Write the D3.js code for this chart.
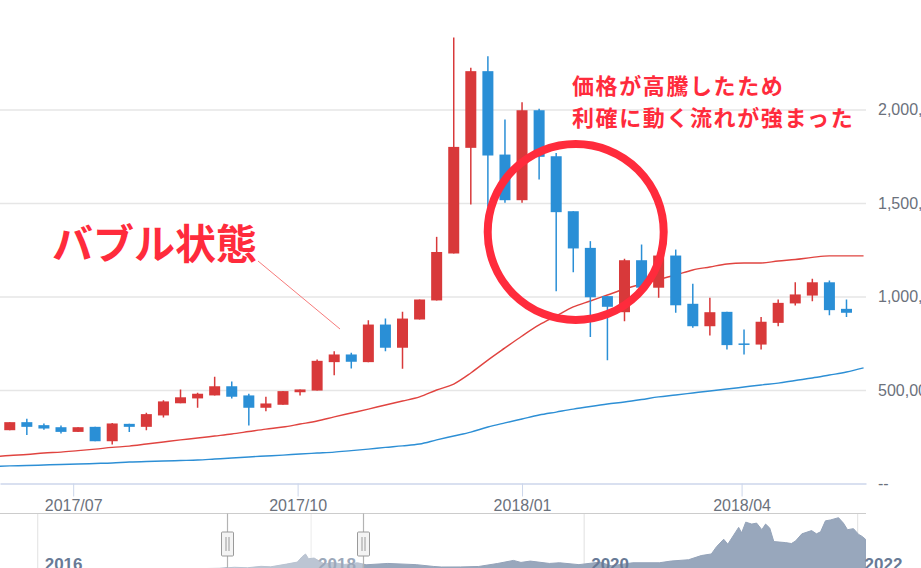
<!DOCTYPE html>
<html>
<head>
<meta charset="utf-8">
<script src="https://cdn.jsdelivr.net/npm/d3@7"></script>
<style>
body { margin: 0; background: #fff; overflow: hidden; }
svg { display: block; }
</style>
</head>
<body>
<div id="chart"></div>
<script>
var svgWidth = 921;
var svgHeight = 568;

// main plot area
var plotRight = 866;
var plotBottom = 483.5;

// weekly candles (week start, Monday)
var weeks = ["2017-06-05","2017-06-12","2017-06-19","2017-06-26","2017-07-03","2017-07-10","2017-07-17","2017-07-24","2017-07-31","2017-08-07",
  "2017-08-14","2017-08-21","2017-08-28","2017-09-04","2017-09-11","2017-09-18","2017-09-25","2017-10-02","2017-10-09","2017-10-16",
  "2017-10-23","2017-10-30","2017-11-06","2017-11-13","2017-11-20","2017-11-27","2017-12-04","2017-12-11","2017-12-18","2017-12-25",
  "2018-01-01","2018-01-08","2018-01-15","2018-01-22","2018-01-29","2018-02-05","2018-02-12","2018-02-19","2018-02-26","2018-03-05",
  "2018-03-12","2018-03-19","2018-03-26","2018-04-02","2018-04-09","2018-04-16","2018-04-23","2018-04-30","2018-05-07","2018-05-14"];

var opens = [285000,328000,312000,301000,276000,303000,226000,319000,303000,364000,
  429000,455000,471000,520000,471000,405000,421000,488000,497000,649000,
  690000,649000,850000,726000,877000,979000,1230000,1795000,2205000,1759000,
  1515000,1996000,1750000,1456000,1260000,1002000,916000,1194000,1047000,1219000,
  961000,841000,918000,749000,743000,859000,963000,1005000,1076000,934000];
var highs = [328000,346000,321000,310000,301000,303000,324000,319000,378000,445000,
  503000,485000,571000,545000,480000,464000,494000,503000,663000,707000,
  699000,873000,882000,918000,984000,1319000,2385000,2223000,2285000,1947000,
  2039000,2004000,1768000,1456000,1296000,1002000,1202000,1278000,1219000,1251000,
  1068000,993000,918000,824000,891000,984000,1076000,1095000,1086000,984000];
var lows = [285000,260000,287000,267000,276000,226000,209000,276000,285000,353000,
  429000,405000,471000,455000,310000,387000,421000,471000,497000,579000,
  615000,649000,707000,613000,877000,979000,1230000,1492000,1480000,1501000,
  1501000,1626000,1028000,1130000,784000,659000,868000,1040000,993000,913000,
  833000,791000,717000,690000,717000,841000,952000,975000,900000,891000];
var closes = [328000,303000,294000,276000,301000,226000,321000,303000,371000,439000,
  461000,480000,520000,464000,405000,428000,494000,503000,656000,690000,
  651000,850000,726000,882000,984000,1238000,1800000,2205000,1754000,1515000,
  1996000,1747000,1451000,1257000,996000,945000,1194000,1047000,1219000,953000,
  841000,916000,740000,745000,865000,966000,1011000,1076000,927000,913000];

// moving averages (one point per week, one extra week on each side)
var maWeeks = ["2017-05-29"].concat(weeks, ["2018-05-21"]);
var maRed = [141700,149700,155000,163000,168000,176000,184000,193000,200000,211000,
  222000,233000,243000,254000,265000,278000,291000,302000,318000,334000,
  356000,377000,398000,420000,441000,463000,500000,532000,591000,660000,
  725000,789000,848000,896000,944000,976000,1008000,1040000,1067000,1091000,
  1115000,1142000,1158000,1174000,1179000,1179000,1190000,1198000,1209000,1217000,
  1217000,1217000];
var maBlue = [91000,94000,96000,99000,102000,104000,107000,110000,115000,118000,
  120000,123000,126000,131000,136000,142000,147000,152000,158000,163000,
  168000,176000,184000,193000,201000,211000,233000,254000,275000,302000,
  324000,345000,366000,382000,398000,412000,425000,436000,449000,463000,
  473000,484000,495000,505000,516000,527000,537000,551000,564000,580000,
  596000,618000];

var yTicks = [0, 500000, 1000000, 1500000, 2000000];
var xTicks = ["2017-07-01","2017-10-01","2018-01-01","2018-04-01"];

// navigator series
var navDates = ["2015-09-25","2016-01-01","2016-03-01","2016-06-15","2016-08-01","2016-11-01","2017-01-01","2017-03-01","2017-05-01","2017-06-10",
  "2017-07-15","2017-08-20","2017-09-15","2017-10-27","2017-11-25","2017-12-08","2017-12-17","2017-12-25","2018-01-09","2018-02-06",
  "2018-02-26","2018-04-01","2018-05-05","2018-05-28","2018-07-25","2018-10-09","2018-11-25","2018-12-15","2019-02-04","2019-03-25",
  "2019-05-15","2019-06-26","2019-07-16","2019-08-10","2019-09-30","2019-10-27","2019-12-18","2020-02-12","2020-03-13","2020-05-10",
  "2020-07-20","2020-08-21","2020-10-06","2020-11-09","2020-12-06","2020-12-20","2021-01-08","2021-01-19","2021-02-17","2021-02-25",
  "2021-03-08","2021-03-24","2021-04-06","2021-04-20","2021-04-30","2021-05-11","2021-05-22","2021-06-22","2021-07-08","2021-07-19",
  "2021-08-05","2021-08-31","2021-09-13","2021-09-24","2021-10-07","2021-10-21","2021-11-11","2021-11-24","2021-12-05","2021-12-21",
  "2022-01-04","2022-01-12","2022-01-22"];
var navValues = [28000,50000,48000,80000,62000,77000,110000,130000,170000,330000,
  260000,470000,400000,800000,1100000,1900000,2300000,1600000,1700000,800000,
  1050000,750000,1000000,700000,900000,720000,450000,370000,380000,450000,
  900000,1350000,1050000,1250000,900000,1000000,720000,1100000,550000,1000000,
  1000000,1260000,1450000,2070000,2310000,3400000,4500000,3760000,6260000,5450000,
  7040000,6750000,6900000,5920000,6750000,6170000,4150000,4000000,3860000,4230000,
  5300000,5780000,5300000,5600000,7230000,7370000,7700000,6900000,5920000,6070000,
  5200000,4960000,4500000];
var navTicks = ["2016-01-01","2018-01-01","2020-01-01","2022-01-01"];
var navRange = ["2017-05-21","2018-05-19"];

var parseDate = d3.timeParse("%Y-%m-%d");

var upColor = "#d8393a";
var downColor = "#2a8fd6";
var noteColor = "#ff2b3c";

var svg = d3.select("#chart")
    .append("svg")
    .attr("width", svgWidth)
    .attr("height", svgHeight)
    .style("font-family", "'Liberation Sans', Arial, sans-serif");

//scales
var xScale = d3.scaleTime()
    .domain([parseDate("2017-06-01"), parseDate("2018-05-22")])
    .range([0, plotRight]);

var yScale = d3.scaleLinear()
    .domain([0, 2500000])
    .range([plotBottom, 16]);

//grid + right axis labels
var yAxis = svg.append("g")
    .call(d3.axisRight(yScale)
        .tickValues(yTicks)
        .tickSize(plotRight)
        .tickPadding(12)
        .tickFormat(d => d === 0 ? "--" : d3.format(",")(d)));
yAxis.select(".domain").remove();
yAxis.selectAll(".tick line")
    .attr("stroke", "#e6e6e6")
    .attr("stroke-width", 1.5)
    .attr("opacity", d => d === 0 ? 0 : 1);
yAxis.selectAll(".tick text")
    .attr("fill", "#6b717c")
    .style("font-size", "16px");

//bottom axis
var xAxis = svg.append("g")
    .attr("transform", `translate(0, ${plotBottom})`)
    .call(d3.axisBottom(xScale)
        .tickValues(xTicks.map(parseDate))
        .tickSize(13)
        .tickSizeOuter(0)
        .tickPadding(3)
        .tickFormat(d3.timeFormat("%Y/%m")));
xAxis.select(".domain").attr("stroke", "#ccd6eb").attr("stroke-width", 1.5);
xAxis.selectAll(".tick line").attr("stroke", "#ccd6eb");
xAxis.selectAll(".tick text")
    .attr("fill", "#6b717c")
    .style("font-size", "16px");

svg.append("clipPath")
    .attr("id", "plotClip")
    .append("rect")
    .attr("x", 0)
    .attr("y", 0)
    .attr("width", plotRight)
    .attr("height", plotBottom);

var plot = svg.append("g").attr("clip-path", "url(#plotClip)");

//moving average lines
var maLine = d3.line()
    .x(d => xScale(d.date))
    .y(d => yScale(d.value))
    .curve(d3.curveMonotoneX);

var maDates = maWeeks.map(parseDate);

plot.append("path")
    .datum(maDates.map((d, i) => ({ date: d, value: maBlue[i] })))
    .attr("fill", "none")
    .attr("stroke", "#2d8fd5")
    .attr("stroke-width", 1.4)
    .attr("d", maLine);

plot.append("path")
    .datum(maDates.map((d, i) => ({ date: d, value: maRed[i] })))
    .attr("fill", "none")
    .attr("stroke", "#e04440")
    .attr("stroke-width", 1.4)
    .attr("d", maLine);

//candles
var candleData = weeks.map(function(w, i) {
    return { date: parseDate(w), open: opens[i], high: highs[i], low: lows[i], close: closes[i] };
});

var weekPx = xScale(parseDate(weeks[1])) - xScale(parseDate(weeks[0]));
var bodyWidth = Math.round(weekPx * 0.64);

var candles = plot.selectAll(".candle")
    .data(candleData)
    .enter()
    .append("g")
    .attr("class", "candle")
    .attr("fill", d => d.close >= d.open ? upColor : downColor)
    .attr("stroke", d => d.close >= d.open ? upColor : downColor);

candles.append("line")
    .attr("x1", d => xScale(d.date))
    .attr("x2", d => xScale(d.date))
    .attr("y1", d => yScale(d.high))
    .attr("y2", d => yScale(d.low))
    .attr("stroke-width", 1.5);

candles.append("rect")
    .attr("x", d => xScale(d.date) - bodyWidth / 2)
    .attr("y", d => yScale(Math.max(d.open, d.close)))
    .attr("width", bodyWidth)
    .attr("height", d => Math.max(1.5, Math.abs(yScale(d.open) - yScale(d.close))))
    .attr("stroke", "none");

//annotations
svg.append("circle")
    .attr("cx", xScale(parseDate("2018-01-23")))
    .attr("cy", yScale(1345000))
    .attr("r", 88)
    .attr("fill", "none")
    .attr("stroke", noteColor)
    .attr("stroke-width", 8);

svg.append("line")
    .attr("x1", 258)
    .attr("y1", 261)
    .attr("x2", 340)
    .attr("y2", 329)
    .attr("stroke", "#f77b7b")
    .attr("stroke-width", 1);

svg.append("text")
    .attr("x", 52)
    .attr("y", 259)
    .attr("fill", noteColor)
    .style("font-family", "'Noto Sans CJK JP', sans-serif")
    .style("font-size", "41px")
    .style("font-weight", "700")
    .text("バブル状態");

var noteLines = ["価格が高騰したため", "利確に動く流れが強まった"];
svg.selectAll(".note")
    .data(noteLines)
    .enter()
    .append("text")
    .attr("class", "note")
    .attr("x", 572)
    .attr("y", (d, i) => 94 + i * 32)
    .attr("fill", noteColor)
    .style("font-family", "'Noto Sans CJK JP', sans-serif")
    .style("font-size", "22px")
    .style("font-weight", "700")
    .style("letter-spacing", "1.6px")
    .text(d => d);

//navigator
var navTop = 513.5;
var navX = d3.scaleTime()
    .domain([parseDate("2016-01-01"), parseDate("2022-01-01")])
    .range([37.7, 857.6]);
var navY = d3.scaleLinear()
    .domain([0, 7700000])
    .range([569.5, 517.7]);

var nav = svg.append("g");

nav.selectAll(".navgrid")
    .data(navTicks.map(parseDate))
    .enter()
    .append("line")
    .attr("x1", d => navX(d))
    .attr("x2", d => navX(d))
    .attr("y1", navTop)
    .attr("y2", svgHeight)
    .attr("stroke", "#e6e6e6")
    .attr("stroke-width", 1.2);

var navArea = d3.area()
    .x(d => navX(d.date))
    .y0(navY(0))
    .y1(d => navY(d.value));

nav.append("path")
    .datum(navDates.map((d, i) => ({ date: parseDate(d), value: navValues[i] })))
    .attr("fill", "#98a7bc")
    .attr("stroke", "#94a3b9")
    .attr("stroke-width", 1)
    .attr("d", navArea);

nav.selectAll(".navlabel")
    .data(navTicks.map(parseDate))
    .enter()
    .append("text")
    .attr("x", d => navX(d) + 7)
    .attr("y", 569.5)
    .attr("fill", "#687a96")
    .style("font-size", "17px")
    .style("font-weight", "700")
    .text(d3.timeFormat("%Y"));

// selected window mask
var h1 = navX(parseDate(navRange[0]));
var h2 = navX(parseDate(navRange[1]));

nav.append("rect")
    .attr("x", h1)
    .attr("y", navTop)
    .attr("width", h2 - h1)
    .attr("height", svgHeight - navTop)
    .attr("fill", "#fff")
    .attr("opacity", 0.35);

nav.append("line")
    .attr("x1", 0)
    .attr("x2", plotRight)
    .attr("y1", navTop)
    .attr("y2", navTop)
    .attr("stroke", "#cccccc")
    .attr("stroke-width", 1.2);

var handles = nav.selectAll(".handle")
    .data([h1, h2])
    .enter()
    .append("g")
    .attr("transform", d => `translate(${Math.round(d) + 0.5}, 0)`);

handles.append("line")
    .attr("y1", navTop)
    .attr("y2", svgHeight)
    .attr("stroke", "#b3b3b3")
    .attr("stroke-width", 1.2);

handles.append("rect")
    .attr("x", -6)
    .attr("y", 532)
    .attr("width", 12)
    .attr("height", 24)
    .attr("rx", 1)
    .attr("fill", "#f4f4f4")
    .attr("stroke", "#9a9a9a");

handles.selectAll(".grip")
    .data([-1.5, 1.5])
    .enter()
    .append("line")
    .attr("x1", d => d)
    .attr("x2", d => d)
    .attr("y1", 537)
    .attr("y2", 551)
    .attr("stroke", "#9a9a9a");
</script>
</body>
</html>
